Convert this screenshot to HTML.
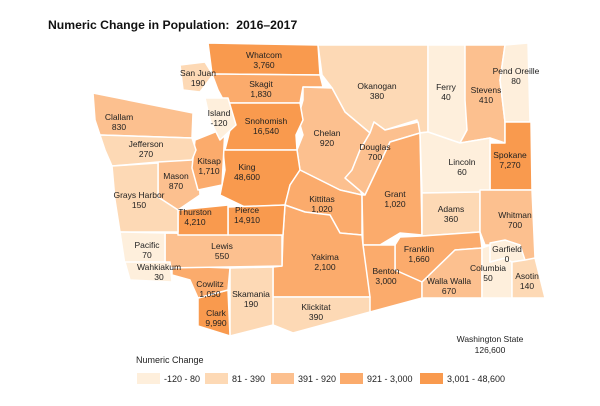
<!DOCTYPE html>
<html><head><meta charset="utf-8"><style>
html,body{margin:0;padding:0;background:#fff;}
svg{display:block;font-family:"Liberation Sans",Arial,sans-serif;}
.m polygon{stroke:#fff;stroke-width:1.5;stroke-linejoin:round;}
.c1{fill:#feefdc}.c2{fill:#fdd9b5}.c3{fill:#fcc08f}.c4{fill:#fbab6c}.c5{fill:#f99a4e}
.l text{font-size:8.5px;fill:#222;text-anchor:middle;}
</style></head><body>
<svg width="600" height="406" viewBox="0 0 600 406">
<text x="48" y="29" font-size="12.2" font-weight="bold" fill="#111">Numeric Change in Population:&#160; 2016–2017</text>
<g class="m">
<polygon class="c5" points="208,43 318,45 320,75 212,74"/>
<polygon class="c2" points="318,45 428,45 428,132 418,133 417,120 385,130 374,122 370,133 345,112 332,88 322,75"/>
<polygon class="c4" points="212,74 320,75 323,87 303,87 300,103 225,103 218,90"/>
<polygon class="c3" points="303,87 332,88 345,112 370,133 360,150 352,170 362,195 340,190 320,180 300,170 297,150 303,135 298,118 303,100"/>
<polygon class="c5" points="225,103 300,103 303,120 296,135 297,150 225,150 230,130"/>
<polygon class="c5" points="223,150 297,150 300,170 290,185 285,205 245,207 220,195 225,170"/>
<polygon class="c4" points="300,170 320,180 340,190 362,195 362,235 340,233 330,215 305,212 285,205 290,185"/>
<polygon class="c3" points="370,133 374,122 385,130 418,122 420,133 390,142 365,195 345,178 352,170 360,150"/>
<polygon class="c4" points="420,133 422,235 400,233 380,245 363,245 362,195 365,195 390,142"/>
<polygon class="c1" points="428,45 465,45 467,130 460,143 428,132"/>
<polygon class="c3" points="465,45 505,45 500,80 505,122 505,143 490,138 460,143 467,130 465,100"/>
<polygon class="c1" points="505,45 528,43 530,122 505,122 500,80"/>
<polygon class="c5" points="505,122 531,122 532,190 490,190 490,143 505,143"/>
<polygon class="c1" points="428,132 460,143 490,138 490,192 422,193 420,133"/>
<polygon class="c2" points="422,193 480,192 480,232 422,236"/>
<polygon class="c3" points="480,190 532,190 535,258 525,262 512,258 505,245 485,245 480,232"/>
<polygon class="c4" points="422,236 480,232 482,248 455,250 422,282 395,270 395,245 400,237"/>
<polygon class="c4" points="363,245 380,245 395,245 395,270 422,282 422,298 370,312"/>
<polygon class="c3" points="455,250 482,248 482,298 422,298 422,282"/>
<polygon class="c1" points="482,248 490,245 490,262 505,258 512,262 512,298 482,298"/>
<polygon class="c1" points="490,243 505,240 520,245 525,260 512,262 505,258 490,262"/>
<polygon class="c2" points="512,262 525,260 535,258 545,298 512,298"/>
<polygon class="c4" points="283,235 285,205 305,212 330,215 340,233 362,235 363,245 370,297 273,297 273,267 282,266"/>
<polygon class="c2" points="273,297 370,297 370,312 293,333 273,325"/>
<polygon class="c2" points="230,268 273,267 273,325 230,336"/>
<polygon class="c5" points="198,298 228,290 230,336 198,326"/>
<polygon class="c4" points="172,266 230,268 228,290 198,298 190,280 172,275"/>
<polygon class="c3" points="165,233 282,235 282,266 165,268"/>
<polygon class="c5" points="228,207 285,205 283,235 228,235"/>
<polygon class="c5" points="178,210 228,205 228,235 178,235"/>
<polygon class="c3" points="158,160 198,157 200,195 178,210 158,197"/>
<polygon class="c4" points="195,140 225,128 222,185 198,190 192,168"/>
<polygon class="c1" points="205,98 228,98 236,125 220,140 210,120"/>
<polygon class="c2" points="180,65 205,62 213,75 200,92 183,90"/>
<polygon class="c3" points="93,93 193,113 192,138 100,135 95,120"/>
<polygon class="c2" points="100,135 192,138 196,150 192,160 158,162 112,166 105,150"/>
<polygon class="c2" points="112,166 158,163 158,197 178,210 178,232 120,232 115,200"/>
<polygon class="c1" points="120,232 165,233 165,262 125,265"/>
<polygon class="c1" points="125,262 170,262 172,282 130,280"/>
</g>
<g class="l">
<text x="264" y="58">Whatcom</text><text x="264" y="68">3,760</text>
<text x="198" y="76">San Juan</text><text x="198" y="86">190</text>
<text x="261" y="87">Skagit</text><text x="261" y="97">1,830</text>
<text x="219" y="116">Island</text><text x="219" y="126">-120</text>
<text x="266" y="124">Snohomish</text><text x="266" y="134">16,540</text>
<text x="119" y="120">Clallam</text><text x="119" y="130">830</text>
<text x="146" y="147">Jefferson</text><text x="146" y="157">270</text>
<text x="209" y="164">Kitsap</text><text x="209" y="174">1,710</text>
<text x="176" y="179">Mason</text><text x="176" y="189">870</text>
<text x="247" y="170">King</text><text x="247" y="180">48,600</text>
<text x="139" y="198">Grays Harbor</text><text x="139" y="208">150</text>
<text x="195" y="215">Thurston</text><text x="195" y="225">4,210</text>
<text x="247" y="213">Pierce</text><text x="247" y="223">14,910</text>
<text x="147" y="248">Pacific</text><text x="147" y="258">70</text>
<text x="159" y="270">Wahkiakum</text><text x="159" y="280">30</text>
<text x="222" y="249">Lewis</text><text x="222" y="259">550</text>
<text x="210" y="287">Cowlitz</text><text x="210" y="297">1,050</text>
<text x="216" y="316">Clark</text><text x="216" y="326">9,990</text>
<text x="251" y="297">Skamania</text><text x="251" y="307">190</text>
<text x="316" y="310">Klickitat</text><text x="316" y="320">390</text>
<text x="325" y="260">Yakima</text><text x="325" y="270">2,100</text>
<text x="322" y="202">Kittitas</text><text x="322" y="212">1,020</text>
<text x="327" y="136">Chelan</text><text x="327" y="146">920</text>
<text x="377" y="89">Okanogan</text><text x="377" y="99">380</text>
<text x="375" y="150">Douglas</text><text x="375" y="160">700</text>
<text x="395" y="197">Grant</text><text x="395" y="207">1,020</text>
<text x="446" y="90">Ferry</text><text x="446" y="100">40</text>
<text x="486" y="93">Stevens</text><text x="486" y="103">410</text>
<text x="516" y="74">Pend Oreille</text><text x="516" y="84">80</text>
<text x="510" y="158">Spokane</text><text x="510" y="168">7,270</text>
<text x="462" y="165">Lincoln</text><text x="462" y="175">60</text>
<text x="451" y="212">Adams</text><text x="451" y="222">360</text>
<text x="515" y="218">Whitman</text><text x="515" y="228">700</text>
<text x="419" y="252">Franklin</text><text x="419" y="262">1,660</text>
<text x="386" y="274">Benton</text><text x="386" y="284">3,000</text>
<text x="449" y="284">Walla Walla</text><text x="449" y="294">670</text>
<text x="488" y="271">Columbia</text><text x="488" y="281">50</text>
<text x="507" y="252">Garfield</text><text x="507" y="262">0</text>
<text x="527" y="279">Asotin</text><text x="527" y="289">140</text>
<text x="490" y="342">Washington State</text><text x="490" y="353">126,600</text>
</g>
<text x="136" y="363" font-size="9" fill="#222">Numeric Change</text>
<g font-size="9" fill="#222">
<rect x="137" y="373" width="23" height="11" class="c1"/><text x="164" y="382">-120 - 80</text>
<rect x="205" y="373" width="23" height="11" class="c2"/><text x="232" y="382">81 - 390</text>
<rect x="271" y="373" width="23" height="11" class="c3"/><text x="298" y="382">391 - 920</text>
<rect x="340" y="373" width="23" height="11" class="c4"/><text x="367" y="382">921 - 3,000</text>
<rect x="420" y="373" width="23" height="11" class="c5"/><text x="447" y="382">3,001 - 48,600</text>
</g>
</svg>
</body></html>
